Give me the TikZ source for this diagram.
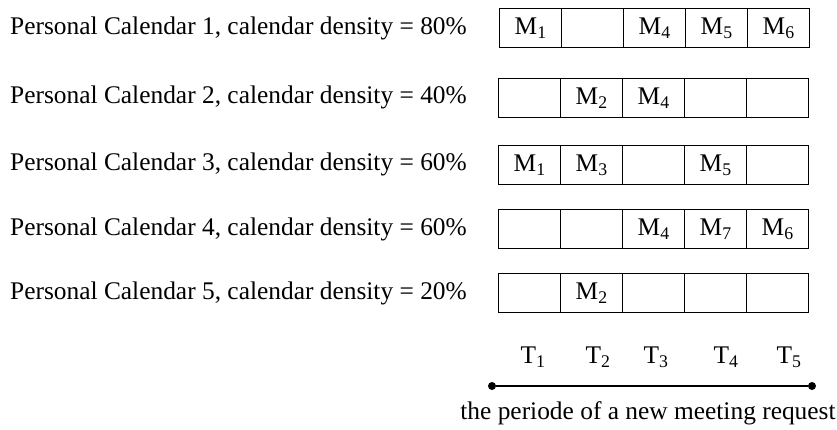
\documentclass[tikz,border=0pt]{standalone}
\usepackage{fontspec}
\setmainfont{Liberation Serif}
\begin{document}
\begin{tikzpicture}[x=1pt,y=-1pt,
  every node/.style={font=\fontsize{25.4}{30}\selectfont},
  cell/.style={draw,line width=1.3pt,minimum width=62pt,minimum height=39pt,inner sep=0pt,anchor=north west},
  lab/.style={anchor=west,inner sep=0pt},
  dot/.style={circle,fill,inner sep=0pt,minimum size=8pt}]
\useasboundingbox (0,0) rectangle (837,429);
\newcommand{\Msub}[1]{M\textsubscript{#1}}
\newcommand{\Tsub}[1]{T\textsubscript{#1}}
% labels
\node[lab] (l1) at (10,28) {Personal Calendar 1, calendar density = 80\%};
\node[lab] (l2) at (10,97) {Personal Calendar 2, calendar density = 40\%};
\node[lab] (l3) at (10,164) {Personal Calendar 3, calendar density = 60\%};
\node[lab] (l4) at (10,229) {Personal Calendar 4, calendar density = 60\%};
\node[lab] (l5) at (10,293) {Personal Calendar 5, calendar density = 20\%};
% row 1
\node[cell] (c11) at (499,8) {\Msub{1}};
\node[cell] (c12) at (561,8) {};
\node[cell] (c13) at (623,8) {\Msub{4}};
\node[cell] (c14) at (685,8) {\Msub{5}};
\node[cell] (c15) at (747,8) {\Msub{6}};
% row 2
\node[cell] (c21) at (498,78) {};
\node[cell] (c22) at (560,78) {\Msub{2}};
\node[cell] (c23) at (622,78) {\Msub{4}};
\node[cell] (c24) at (684,78) {};
\node[cell] (c25) at (746,78) {};
% row 3
\node[cell] (c31) at (498,145) {\Msub{1}};
\node[cell] (c32) at (560,145) {\Msub{3}};
\node[cell] (c33) at (622,145) {};
\node[cell] (c34) at (684,145) {\Msub{5}};
\node[cell] (c35) at (746,145) {};
% row 4
\node[cell] (c41) at (498,209) {};
\node[cell] (c42) at (560,209) {};
\node[cell] (c43) at (622,209) {\Msub{4}};
\node[cell] (c44) at (684,209) {\Msub{7}};
\node[cell] (c45) at (746,209) {\Msub{6}};
% row 5
\node[cell] (c51) at (498,273) {};
\node[cell] (c52) at (560,273) {\Msub{2}};
\node[cell] (c53) at (622,273) {};
\node[cell] (c54) at (684,273) {};
\node[cell] (c55) at (746,273) {};
% T labels
\node (t1) at (533,357) {\Tsub{1}};
\node (t2) at (598,357) {\Tsub{2}};
\node (t3) at (656,357) {\Tsub{3}};
\node (t4) at (726,357) {\Tsub{4}};
\node (t5) at (789,357) {\Tsub{5}};
% period line
\node[dot] (ds) at (492,386) {};
\node[dot] (de) at (812,386) {};
\draw[line width=1.3pt] (ds) -- (de);
\node (per) at (648,413) {the periode of a new meeting request};
\end{tikzpicture}
\end{document}
